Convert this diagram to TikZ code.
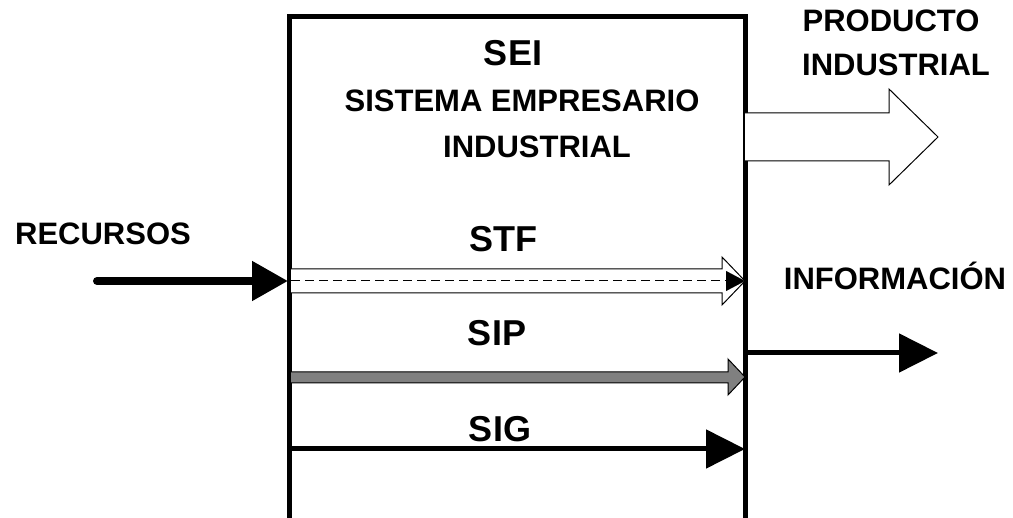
\documentclass[tikz,border=0pt]{standalone}
\usepackage{fontspec}
\setmainfont{Liberation Sans}
\usetikzlibrary{arrows.meta}
\tikzset{
  lbl/.style={anchor=base, inner sep=0pt, font=\bfseries\fontsize{31}{37}\selectfont},
  biglbl/.style={anchor=base, inner sep=0pt, font=\bfseries\fontsize{36}{42}\selectfont},
  boxline/.style={line width=5pt, line join=miter},
  flow/.style={line width=5pt, -{Triangle[length=39pt,width=38pt]}},
  block/.style={draw=black, line width=1pt, line join=miter},
}
\begin{document}
\begin{tikzpicture}[x=1pt,y=-1pt]
\useasboundingbox (0,0) rectangle (1013,518);
% box
\coordinate (bl) at (289,525);
\coordinate (tl) at (289,17);
\coordinate (tr) at (745,17);
\coordinate (br) at (745,525);
\draw[boxline] (bl) -- (tl) -- (tr) -- (br);
% texts
\node[biglbl] (sei) at (513,66) {SEI};
\node[lbl] (sis) at (522,112) {SISTEMA EMPRESARIO};
\node[lbl] (ind) at (537,158) {INDUSTRIAL};
\node[biglbl] (stf) at (503,252) {STF};
\node[biglbl] (sip) at (497,346) {SIP};
\node[biglbl] (sig) at (500,442) {SIG};
\node[lbl] (rec) at (103,245) {RECURSOS};
\node[lbl] (prod) at (891,32) {PRODUCTO};
\node[lbl] (ind2) at (896,76) {INDUSTRIAL};
\node[lbl] (inf) at (895,290) {INFORMACIÓN};
% product block arrow
\draw[block, fill=white] (745,113) -- (889,113) -- (889,89) -- (938,137) -- (889,185) -- (889,161) -- (745,161);
% STF block arrow
\draw[block, fill=white] (291,269) -- (722,269) -- (722,257) -- (745,281) -- (722,305) -- (722,293) -- (291,293);
\coordinate (stfa) at (291,281);
\coordinate (stfb) at (745,281);
\draw[line width=1pt, dash pattern=on 9pt off 5pt] (stfa) -- (728,281);
\draw[line width=0.1pt, -{Triangle[length=19pt,width=20pt]}] (728,281) -- (stfb);
% SIP gray arrow
\draw[block, fill=gray] (291,372) -- (728,372) -- (728,359) -- (745,377) -- (728,395) -- (728,383) -- (291,383);
% SIG
\coordinate (siga) at (291,449);
\coordinate (sigb) at (745,449);
\draw[flow] (siga) -- (sigb);
% RECURSOS
\coordinate (reca) at (97,281);
\coordinate (recb) at (288,281);
\draw[line width=8pt, line cap=round, -{Triangle[length=36pt,width=38pt]}] (reca) -- (recb);
% INFORMACION
\coordinate (infa) at (747,353);
\coordinate (infb) at (938,353);
\draw[flow] (infa) -- (infb);
\end{tikzpicture}
\end{document}
